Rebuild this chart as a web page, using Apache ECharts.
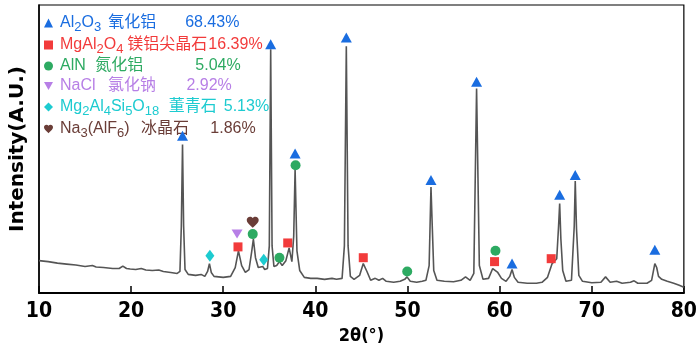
<!DOCTYPE html>
<html><head><meta charset="utf-8">
<script src="https://cdn.jsdelivr.net/npm/echarts@6/dist/echarts.min.js"></script>
<style>html,body{margin:0;padding:0;background:#fff}#c{width:700px;height:350px}</style>
</head><body><div id="c"></div>
<script>
// ---- data ----
const xTicks = [10, 20, 30, 40, 50, 60, 70, 80];
// XRD trace: [2theta, intensity (a.u.)]
const xrdPattern = [[10,33],[10.5,32.5],[11,32],[12,30.5],[13,29.5],[14,28.5],[15,27],[15.8,28],[16.2,26.5],[17,26],[18,25],[18.7,25],[19.1,27.5],[19.5,25],[19.9,24.5],[20.5,24],[21.1,25],[21.6,23.5],[22.3,23],[23,23.5],[23.5,22],[24.3,21],[25,20],[25.3,22],[25.45,68],[25.58,151],[25.7,68],[25.85,24],[26.2,19],[27,18],[27.6,19],[28,17],[28.3,22],[28.5,30],[28.7,21],[29,17],[30,16],[30.8,17],[31.3,26],[31.65,43],[32,28],[32.4,21],[32.8,24],[33.1,43],[33.27,55],[33.5,36],[33.8,26],[34,24],[34.3,27],[34.5,24],[34.8,25],[35,48],[35.15,248],[35.3,48],[35.5,27],[35.8,28],[36.1,32],[36.4,28],[36.8,33],[37.15,46],[37.45,32],[37.65,58],[37.8,126],[38,43],[38.3,23],[38.8,16],[39.5,15],[40.2,15],[41,14],[41.8,15],[42.3,14],[42.9,15],[43.15,48],[43.36,251],[43.55,48],[43.8,17],[44.2,14],[44.8,18],[45.2,30],[45.6,22],[46,13],[46.5,15],[46.9,13],[47.3,15],[47.7,12],[48.5,11],[49.2,12],[49.7,14],[49.95,16.5],[50.3,12],[51,11],[51.6,12],[52,13],[52.35,28],[52.55,108],[52.7,65],[52.85,23],[53.2,13],[54,12],[55,11.5],[55.8,13],[56.3,16.5],[56.8,13],[57.2,20],[57.5,208],[57.65,118],[57.8,28],[58.2,14],[58.8,15],[59.25,25],[59.45,26],[59.8,21],[60.2,15],[60.7,12],[61.1,17],[61.35,24],[61.6,16],[62,11],[63,10],[64,10],[64.6,11],[65.2,16],[65.7,30],[66.2,35],[66.4,68],[66.52,91],[66.65,55],[66.85,23],[67.2,12],[67.8,13],[68.1,68],[68.21,114],[68.35,65],[68.6,18],[69,12],[70,10.5],[71,11],[71.5,16.5],[72,11],[72.7,12],[72.9,13],[73.3,10],[74.2,11],[74.6,12.5],[75,10],[76,10],[76.5,13],[76.85,30],[77.05,26],[77.25,17],[77.6,14],[78.2,12],[78.9,10],[79.5,8],[80,6]];

// phase markers: peak positions (2theta) and marker heights (a.u.)
const al2o3X = [25.58, 35.15, 37.8, 43.36, 52.55, 57.5, 61.35, 66.52, 68.21, 76.85];
const al2o3Y = [160, 253, 142, 260, 115, 215, 30, 100, 120, 44];
const mgal2o4X = [31.6, 37.0, 45.2, 59.45, 65.6];
const mgal2o4Y = [47, 51, 36, 32, 35];
const alnX = [33.2, 36.1, 37.85, 49.97, 59.55];
const alnY = [60, 36, 130, 22, 43];
const naclX = [31.5];
const naclY = [60];
const cordX = [28.55, 34.4];
const cordY = [38, 34];
const cryoX = [33.2];
const cryoY = [72];

// legend texts
const phaseKeys = ['Al2O3', 'MgAl2O4', 'AlN', 'NaCl', 'Mg2Al4Si5O18', 'Na3(AlF6)'];
const phaseFormula = ['Al{2}O{3}', 'MgAl{2}O{4}', 'AlN', 'NaCl', 'Mg{2}Al{4}Si{5}O{18}', 'Na{3}(AlF{6})'];
const phaseCN = ['氧化铝', '镁铝尖晶石', '氮化铝', '氯化钠', '董青石', '冰晶石'];
const phasePct = ['68.43%', '16.39%', '5.04%', '2.92%', '5.13%', '1.86%'];

// ---- styles ----
const colors = ['#1a6de0', '#f23b3b', '#2daa62', '#b77fe6', '#1dcbd0', '#6a3d37'];
const symbols = ['triangle', 'rect', 'circle', 'path://M0,0L10,0L5,9Z', 'diamond',
  'path://M12 21.35l-1.45-1.32C5.4 15.36 2 12.28 2 8.5 2 5.42 4.42 3 7.5 3c1.74 0 3.41.81 4.5 2.09C13.09 3.81 14.76 3 16.5 3 19.58 3 22 5.42 22 8.5c0 3.78-3.4 6.86-8.55 11.54L12 21.35z'];
const symSizes = [[11, 10], 9, 10, [11, 9], [9, 12], [12, 11]];
const gap1 = [7, 4, 9.5, 12.5, 9.5, 11.5];
const gap2 = [29, 1, 52, 30.4, 7, 21.3];
const latin = '"Liberation Sans", Arial, sans-serif';
const cjk = '"Noto Sans CJK SC", sans-serif';

const markerX = [al2o3X, mgal2o4X, alnX, naclX, cordX, cryoX];
const markerY = [al2o3Y, mgal2o4Y, alnY, naclY, cordY, cryoY];

const rich = {};
phaseKeys.forEach((k, i) => {
  rich['a' + i] = {fontFamily: latin, fontSize: 16, color: colors[i], lineHeight: 19, verticalAlign: 'middle'};
  rich['s' + i] = {fontFamily: latin, fontSize: 13, color: colors[i], lineHeight: 13, padding: [9, 0, 0, 0], verticalAlign: 'middle'};
  rich['c' + i] = {fontFamily: cjk, fontSize: 16, color: colors[i], lineHeight: 15, padding: [0, 0, 4, gap1[i]], verticalAlign: 'middle'};
  rich['p' + i] = {fontFamily: latin, fontSize: 16, color: colors[i], lineHeight: 19, padding: [0, 0, 0, gap2[i]], verticalAlign: 'middle'};
});
function legendText(name) {
  const i = phaseKeys.indexOf(name);
  let f = ('{a' + i + '|' + phaseFormula[i] + '}')
    .replace(/\{(\d+)\}/g, '}{s' + i + '|$1}{a' + i + '|')
    .replace(new RegExp('\\{a' + i + '\\|\\}', 'g'), '');
  return f + '{c' + i + '|' + phaseCN[i] + '}{p' + i + '|' + phasePct[i] + '}';
}

const series = [{
  type: 'line', name: 'pattern', data: xrdPattern, showSymbol: false, silent: true,
  lineStyle: {color: '#555', width: 1.6}, z: 2
}];
phaseKeys.forEach((k, i) => {
  series.push({
    type: 'scatter', name: k, symbol: symbols[i], symbolSize: symSizes[i],
    itemStyle: {color: colors[i], opacity: 1},
    data: markerX[i].map((x, j) => [x, markerY[i][j]]), z: 5
  });
});

const chart = echarts.init(document.getElementById('c'), null, {renderer: 'canvas'});
chart.setOption({
  animation: false,
  backgroundColor: '#fff',
  grid: {left: 39, right: 16, top: 5, bottom: 52, show: true, borderColor: '#000', borderWidth: 1.2, backgroundColor: 'transparent'},
  legend: {
    data: phaseKeys, orient: 'vertical', left: 44, top: 12, padding: 0, itemGap: 0,
    itemWidth: 9, itemHeight: 9, selectedMode: false, formatter: legendText,
    textStyle: {rich: rich, padding: [0, 0, 0, 2]}
  },
  xAxis: {
    type: 'value', min: xTicks[0], max: xTicks[xTicks.length - 1], interval: 10,
    axisLine: {show: true, lineStyle: {color: '#000', width: 2}},
    axisTick: {show: true, inside: true, length: 7, lineStyle: {color: '#000', width: 1.5}},
    axisLabel: {color: '#000', fontFamily: '"Liberation Sans Narrow", "DejaVu Sans Condensed", sans-serif', fontWeight: 'bold', fontSize: 21, margin: 8},
    splitLine: {show: false},
    name: '2θ(°)', nameLocation: 'middle', nameGap: 31,
    nameTextStyle: {color: '#000', fontFamily: '"Liberation Sans Narrow", "DejaVu Sans Condensed", sans-serif', fontWeight: 'bold', fontSize: 18}
  },
  yAxis: {
    type: 'value', min: 0, max: 293,
    axisLine: {show: true, lineStyle: {color: '#000', width: 1.5}},
    axisTick: {show: false}, axisLabel: {show: false}, splitLine: {show: false},
    name: 'Intensity(A.U.)', nameLocation: 'middle', nameGap: 11,
    nameTextStyle: {color: '#000', fontFamily: '"DejaVu Sans", sans-serif', fontWeight: 'bold', fontSize: 20}
  },
  series: series
});
</script>
</body></html>
